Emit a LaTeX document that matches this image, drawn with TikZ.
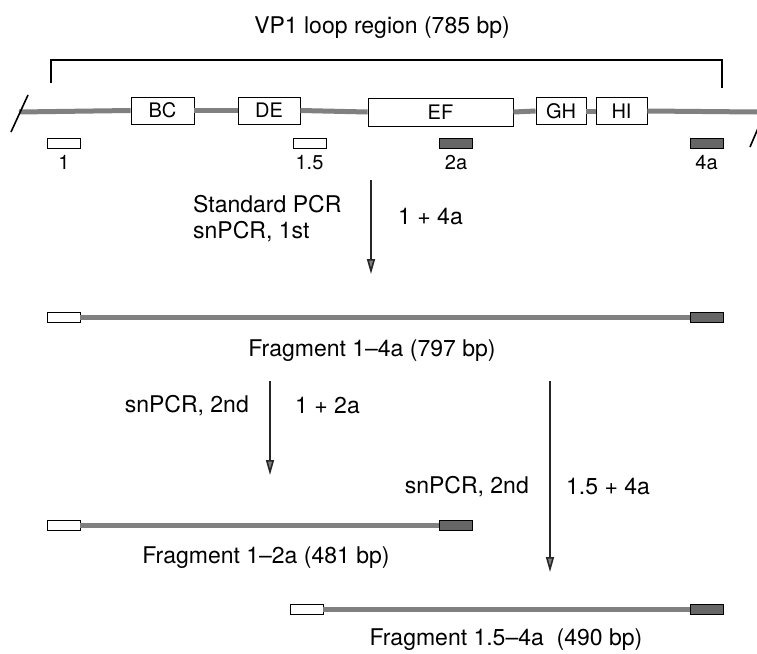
\documentclass[tikz,border=0pt]{standalone}
\usepackage{fontspec}
\setmainfont{TeX Gyre Heros}
\usetikzlibrary{arrows.meta, positioning}
\definecolor{strand}{gray}{0.5}
\definecolor{primerdark}{gray}{0.4}
\tikzset{
    loopbox/.style={rectangle, draw=black, fill=white, line width=0.9pt, minimum height=27pt, inner sep=0pt, font=\fontsize{20}{22}\selectfont},
    primer/.style={rectangle, draw=black, fill=white, line width=0.9pt, minimum width=33pt, minimum height=10pt, inner sep=0pt},
    primerdk/.style={primer, fill=primerdark},
    backbone/.style={draw=strand, line width=5pt},
    arrow/.style={draw=black!85, line width=1.6pt, -{Triangle[length=15pt, width=8pt, fill=gray]}},
    lbl/.style={font=\fontsize{23}{26}\selectfont, inner sep=0pt},
    plbl/.style={font=\fontsize{20}{22}\selectfont, inner sep=0pt}
}

\begin{document}
\begin{tikzpicture}[x=1pt, y=-1pt]
    \useasboundingbox (0,0) rectangle (757,653);
    \clip (0,0) rectangle (757,653);

    % loop region with bracket
    \node (title) [lbl] at (382,28) {VP1 loop region (785 bp)};
    \coordinate (brL) at (51,83);
    \coordinate (brLt) at (51,60);
    \coordinate (brRt) at (722,60);
    \coordinate (brR) at (722,88);
    \draw [line width=1.3pt] (brL) -- (brLt) -- (brRt) -- (brR);

    \coordinate (lend) at (19,112);
    \coordinate (rend) at (757,112);
    \node (BC) [loopbox, minimum width=63pt] at (162.5,110.5) {BC};
    \node (DE) [loopbox, minimum width=62pt] at (269,110.5) {DE};
    \node (EF) [loopbox, minimum width=145pt, minimum height=28pt] at (440.5,112) {EF};
    \node (GH) [loopbox, minimum width=50pt] at (561,111) {GH};
    \node (HI) [loopbox, minimum width=51pt] at (621.5,111) {HI};
    \draw [backbone] (lend) -- (BC.west);
    \draw [backbone] (BC.east) -- (DE.west);
    \draw [backbone] (DE.east) -- (EF.west);
    \draw [backbone] (EF.east) -- (GH.west);
    \draw [backbone] (GH.east) -- (HI.west);
    \draw [backbone] (HI.east) -- (rend);
    \draw [line width=1.6pt] (11,132) -- (28,95);
    \draw [line width=1.6pt] (750,147) -- (765,112);

    % primers
    \node (p1) [primer] at (64,143) {};
    \node (p15) [primer] at (309.5,143) {};
    \node (p2a) [primerdk] at (456,143) {};
    \node (p4a) [primerdk] at (706.5,143) {};
    \node [plbl, below=7pt of p1] {1};
    \node [plbl, below=7pt of p15] {1.5};
    \node [plbl, below=7pt of p2a] {2a};
    \node [plbl, below=7pt of p4a] {4a};

    % first PCR
    \coordinate (a1s) at (371,180);
    \coordinate (a1e) at (371,274);
    \draw [arrow] (a1s) -- (a1e);
    \node [lbl, anchor=west, align=left] at (193,219) {Standard PCR\\snPCR, 1st};
    \node [lbl, anchor=west] at (398,217) {1 + 4a};

    % fragment 1-4a
    \node (f1a) [primer] at (63.5,317) {};
    \node (f1b) [primerdk] at (706.5,317) {};
    \draw [backbone] (f1a) -- (f1b);
    \node [lbl] at (372,351) {Fragment 1--4a (797 bp)};

    % second PCR, left
    \coordinate (a2s) at (270,381);
    \coordinate (a2e) at (270,475);
    \draw [arrow] (a2s) -- (a2e);
    \node [lbl, anchor=east] at (249,406) {snPCR, 2nd};
    \node [lbl, anchor=west] at (295,406) {1 + 2a};

    % second PCR, right
    \coordinate (a3s) at (550,381);
    \coordinate (a3e) at (550,572);
    \draw [arrow] (a3s) -- (a3e);
    \node [lbl, anchor=east] at (529,487) {snPCR, 2nd};
    \node [lbl, anchor=west] at (566,487) {1.5 + 4a};

    % fragment 1-2a
    \node (f2a) [primer] at (63.5,525) {};
    \node (f2b) [primerdk] at (455.5,525) {};
    \draw [backbone] (f2a) -- (f2b);
    \node [lbl] at (266,558) {Fragment 1--2a (481 bp)};

    % fragment 1.5-4a
    \node (f3a) [primer] at (306.5,609) {};
    \node (f3b) [primerdk] at (706.5,609) {};
    \draw [backbone] (f3a) -- (f3b);
    \node [lbl] at (506,640) {Fragment 1.5--4a\ \ (490 bp)};
\end{tikzpicture}
\end{document}
